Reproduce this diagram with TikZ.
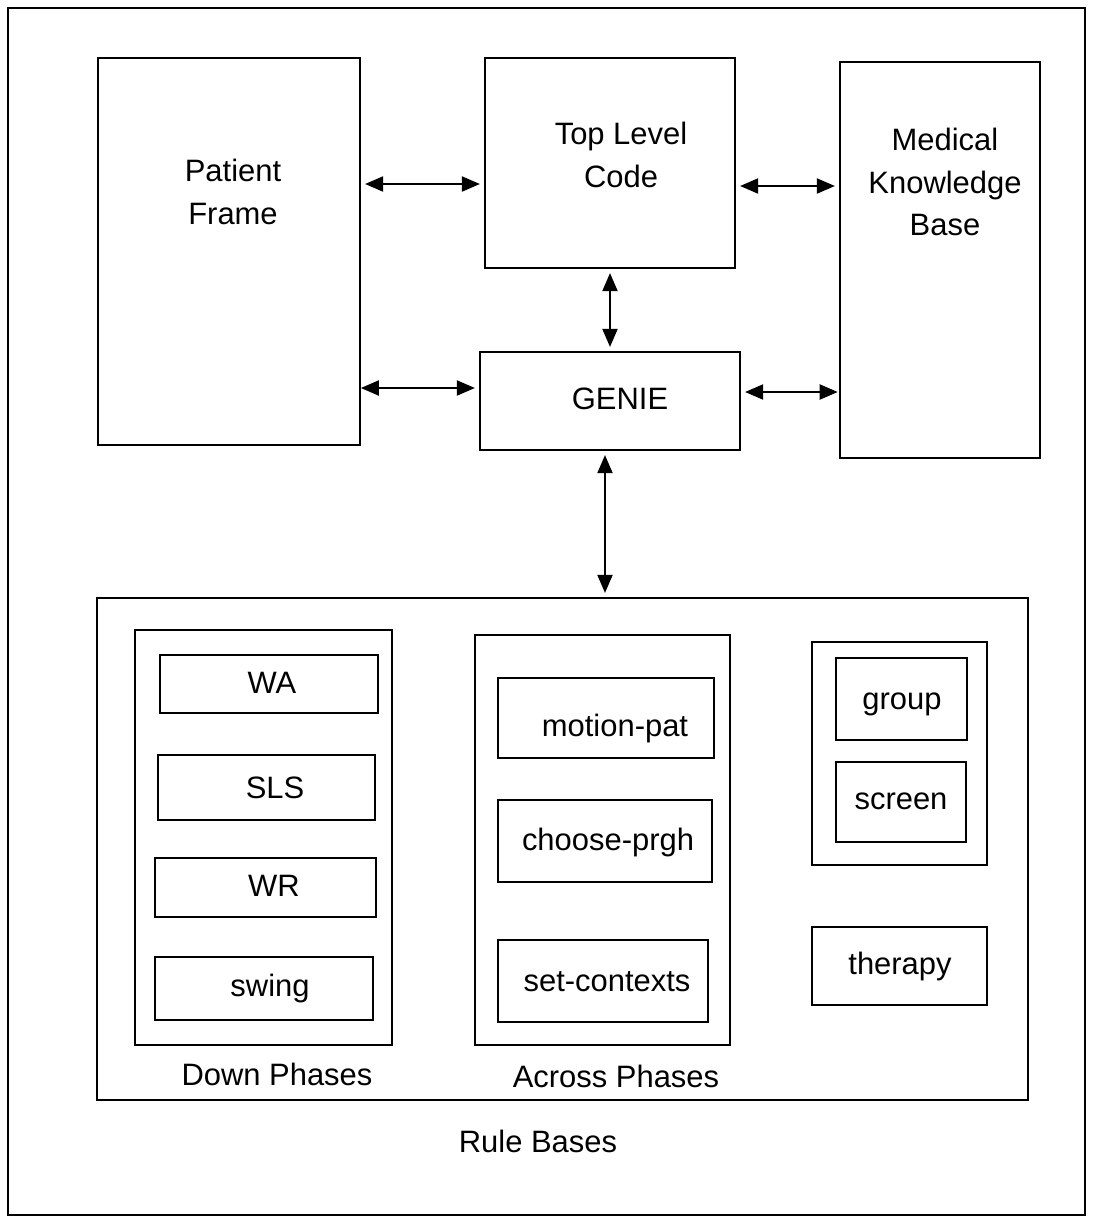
\documentclass[tikz,border=0pt]{standalone}
\usepackage{fontspec}
\setmainfont{Liberation Sans}
\usetikzlibrary{fit,arrows.meta}
\begin{document}
\begin{tikzpicture}[x=0.025cm,y=-0.025cm,
  box/.style={draw,line width=1.3pt,inner sep=0pt},
  txt/.style={font=\fontsize{22}{30}\selectfont,align=center,inner sep=0pt},
  arr/.style={line width=1pt,{Triangle[length=0.45cm,width=0.38cm]}-{Triangle[length=0.45cm,width=0.38cm]}}]
\useasboundingbox (0,0) rectangle (1094,1226);
% outer frame
\node[box,fit={(8,8) (1085,1215)}] (frame) {};
% top boxes
\node[box,fit={(98,58) (360,445)}] (pf) {};
\node[txt] (pft) at (233,192) {Patient\\Frame};
\node[box,fit={(485,58) (735,268)}] (tl) {};
\node[txt] (tlt) at (621,155) {Top Level\\Code};
\node[box,fit={(840,62) (1040,458)}] (mk) {};
\node[txt] (mkt) at (945,182) {Medical\\Knowledge\\Base};
\node[box,fit={(480,352) (740,450)}] (ge) {};
\node[txt] (get) at (620,399) {GENIE};
% rule bases
\node[box,fit={(97,598) (1028,1100)}] (rb) {};
\node[txt] (rbt) at (538,1141) {Rule Bases};
\node[box,fit={(135,630) (392,1045)}] (dp) {};
\node[txt] (dpt) at (277,1074) {Down Phases};
\node[box,fit={(160,655) (378,713)}] (wa) {};
\node[txt] (wat) at (272,683) {WA};
\node[box,fit={(158,755) (375,820)}] (sls) {};
\node[txt] (slst) at (275,788) {SLS};
\node[box,fit={(155,858) (376,917)}] (wr) {};
\node[txt] (wrt) at (274,886) {WR};
\node[box,fit={(155,957) (373,1020)}] (sw) {};
\node[txt] (swt) at (270,988) {swing};
\node[box,fit={(475,635) (730,1045)}] (ap) {};
\node[txt] (apt) at (616,1076) {Across Phases};
\node[box,fit={(498,678) (714,758)}] (mp) {};
\node[txt] (mpt) at (615,728) {motion-pat};
\node[box,fit={(498,800) (712,882)}] (cp) {};
\node[txt] (cpt) at (608,842) {choose-prgh};
\node[box,fit={(498,940) (708,1022)}] (sc) {};
\node[txt] (sct) at (607,982) {set-contexts};
\node[box,fit={(812,642) (987,865)}] (gb) {};
\node[box,fit={(836,658) (967,740)}] (gr) {};
\node[txt] (grt) at (902,704) {group};
\node[box,fit={(836,762) (966,842)}] (scr) {};
\node[txt] (scrt) at (901,801) {screen};
\node[box,fit={(812,927) (987,1005)}] (th) {};
\node[txt] (tht) at (900,966) {therapy};
% connectors
\coordinate (y1) at (0,184);
\coordinate (y2) at (0,186);
\coordinate (y3) at (0,388);
\coordinate (y4) at (0,392);
\coordinate (xa) at (610,0);
\coordinate (xb) at (605,0);
\draw[arr] ([xshift=3pt]pf.east |- y1) -- ([xshift=-3pt]tl.west |- y1);
\draw[arr] ([xshift=3pt]tl.east |- y2) -- ([xshift=-3pt]mk.west |- y2);
\draw[arr] ([xshift=0pt]pf.east |- y3) -- ([xshift=-3pt]ge.west |- y3);
\draw[arr] ([xshift=3pt]ge.east |- y4) -- ([xshift=-1pt]mk.west |- y4);
\draw[arr] ([yshift=-3pt]xa |- tl.south) -- ([yshift=3pt]xa |- ge.north);
\draw[arr] ([yshift=-3pt]xb |- ge.south) -- ([yshift=3pt]xb |- rb.north);
\end{tikzpicture}
\end{document}
